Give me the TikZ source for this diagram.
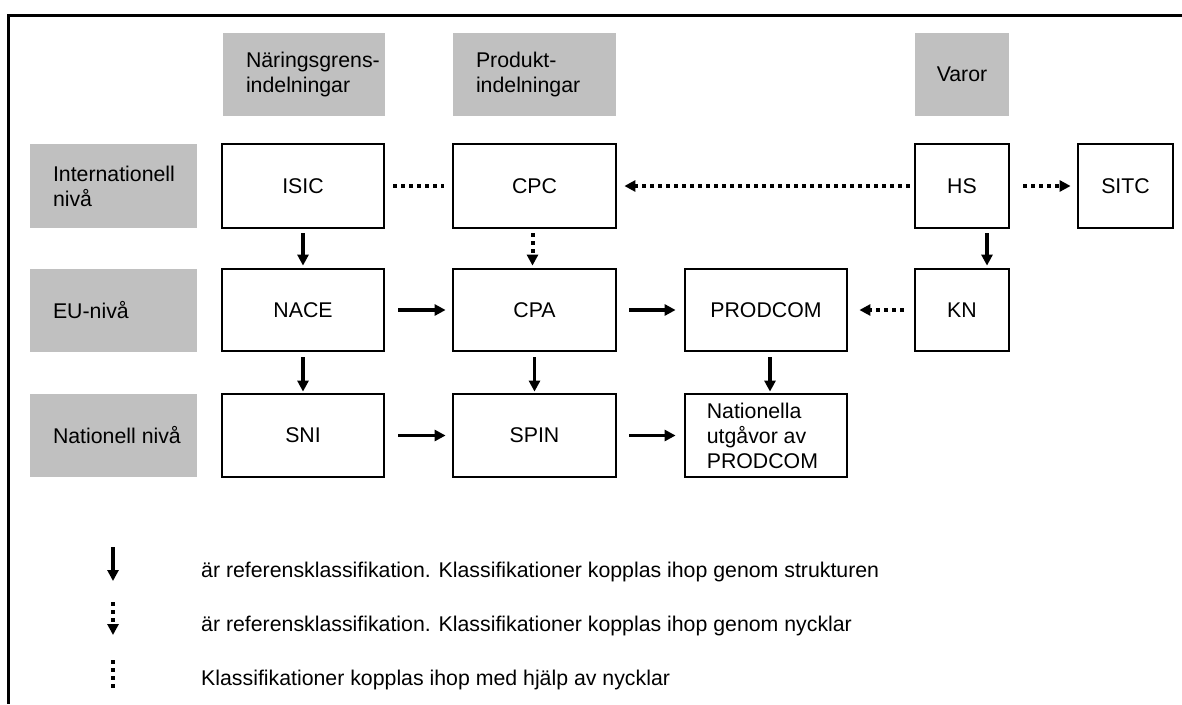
\documentclass[tikz,border=0pt]{standalone}
\usepackage{fontspec}
\setmainfont{Liberation Sans}
\usetikzlibrary{arrows.meta}
\definecolor{hdrgray}{HTML}{C0C0C0}
\begin{document}
\begin{tikzpicture}[x=1pt,y=-1pt,
  every node/.style={font=\fontsize{21.3}{25}\selectfont},
  graybox/.style={fill=hdrgray, draw=none, inner sep=0pt},
  lefttext/.style={label={[anchor=west, xshift=23pt, inner sep=0pt, align=left]west:#1}},
  cbox/.style={draw=black, line width=2.8pt, fill=white, inner sep=0pt, align=center},
  solidarrow/.style={line width=3.5pt, -{Triangle[length=11pt,width=11pt]}},
  dotarrow/.style={line width=4pt, dash pattern=on 4pt off 4pt, -{Triangle[length=11pt,width=11pt]}},
  dotline/.style={line width=4pt, dash pattern=on 4pt off 4pt},
]
\useasboundingbox (0,0) rectangle (1182,704);
\fill[white] (0,0) rectangle (1182,704);
% frame
\draw[line width=3pt] (1182,15) -- (8,15) -- (8,704);

% column headers
\node[graybox, minimum width=162pt, minimum height=83pt, lefttext={Näringsgrens-\\indelningar}] (hA) at (304,74.5) {};
\node[graybox, minimum width=163pt, minimum height=83pt, lefttext={Produkt-\\indelningar}] (hB) at (534.5,74.5) {};
\node[graybox, minimum width=94pt, minimum height=83pt] (hC) at (962,74.5) {Varor};

% row labels
\node[graybox, minimum width=167pt, minimum height=84pt, lefttext={Internationell\\nivå}] (rA) at (113.5,186) {};
\node[graybox, minimum width=167pt, minimum height=83pt, lefttext={EU-nivå}] (rB) at (113.5,310.5) {};
\node[graybox, minimum width=167pt, minimum height=83pt, lefttext={Nationell nivå}] (rC) at (113.5,435.5) {};

% international level
\node[cbox, minimum width=162pt, minimum height=84pt] (isic) at (303,186) {ISIC};
\node[cbox, minimum width=163pt, minimum height=84pt] (cpc) at (534.5,186) {CPC};
\node[cbox, minimum width=94pt, minimum height=84pt] (hs) at (962,186) {HS};
\node[cbox, minimum width=95pt, minimum height=84pt] (sitc) at (1125.5,186) {SITC};

% EU level
\node[cbox, minimum width=162pt, minimum height=82pt] (nace) at (303,310) {NACE};
\node[cbox, minimum width=163pt, minimum height=82pt] (cpa) at (534.5,310) {CPA};
\node[cbox, minimum width=162pt, minimum height=82pt] (prodcom) at (766,310) {PRODCOM};
\node[cbox, minimum width=94pt, minimum height=82pt] (kn) at (962,310) {KN};

% national level
\node[cbox, minimum width=162pt, minimum height=83pt] (sni) at (303,435.5) {SNI};
\node[cbox, minimum width=163pt, minimum height=83pt] (spin) at (534.5,435.5) {SPIN};
\node[cbox, minimum width=162pt, minimum height=83pt, lefttext={Nationella\\utgåvor av\\PRODCOM}, xshift=0pt] (natp) at (766,435.5) {};

% connectors
\draw[dotline, shorten <=8pt, shorten >=8pt] (isic) -- (cpc);
\draw[dotarrow, shorten <=4pt, shorten >=7pt] (hs) -- (cpc);
\draw[dotarrow, shorten <=13pt, shorten >=6pt] (hs) -- (sitc);
\draw[solidarrow, shorten <=4pt, shorten >=2pt] (isic) -- (nace);
\draw[dotarrow, shorten <=4pt, shorten >=2pt] ([xshift=-2pt]cpc.south) -- ([xshift=-2pt]cpa.north);
\draw[solidarrow, shorten <=4pt, shorten >=2pt] ([xshift=25pt]hs.south) -- ([xshift=25pt]kn.north);
\draw[solidarrow, shorten <=13pt, shorten >=6pt] (nace) -- (cpa);
\draw[solidarrow, shorten <=12pt, shorten >=8pt] (cpa) -- (prodcom);
\draw[dotarrow, shorten <=10pt, shorten >=11pt] (kn) -- (prodcom);
\draw[solidarrow, shorten <=5pt, shorten >=1pt] (nace) -- (sni);
\draw[solidarrow, shorten <=5pt, shorten >=1pt] (cpa) -- (spin);
\draw[solidarrow, shorten <=5pt, shorten >=1pt] ([xshift=4pt]prodcom.south) -- ([xshift=4pt]natp.north);
\draw[solidarrow, shorten <=13pt, shorten >=6pt] (sni) -- (spin);
\draw[solidarrow, shorten <=12pt, shorten >=8pt] (spin) -- (natp);

% legend
\coordinate (l1a) at (113,547); \coordinate (l1b) at (113,581);
\coordinate (l2a) at (113,602); \coordinate (l2b) at (113,635);
\coordinate (l3a) at (113,660); \coordinate (l3b) at (113,690);
\draw[solidarrow] (l1a) -- (l1b);
\draw[dotarrow] (l2a) -- (l2b);
\draw[dotline] (l3a) -- (l3b);
\node[anchor=base west, inner sep=0pt] (t1) at (201,577) {är referensklassifikation. Klassifikationer kopplas ihop genom strukturen};
\node[anchor=base west, inner sep=0pt] (t2) at (201,631) {är referensklassifikation. Klassifikationer kopplas ihop genom nycklar};
\node[anchor=base west, inner sep=0pt] (t3) at (201,685) {Klassifikationer kopplas ihop med hjälp av nycklar};
\end{tikzpicture}
\end{document}
